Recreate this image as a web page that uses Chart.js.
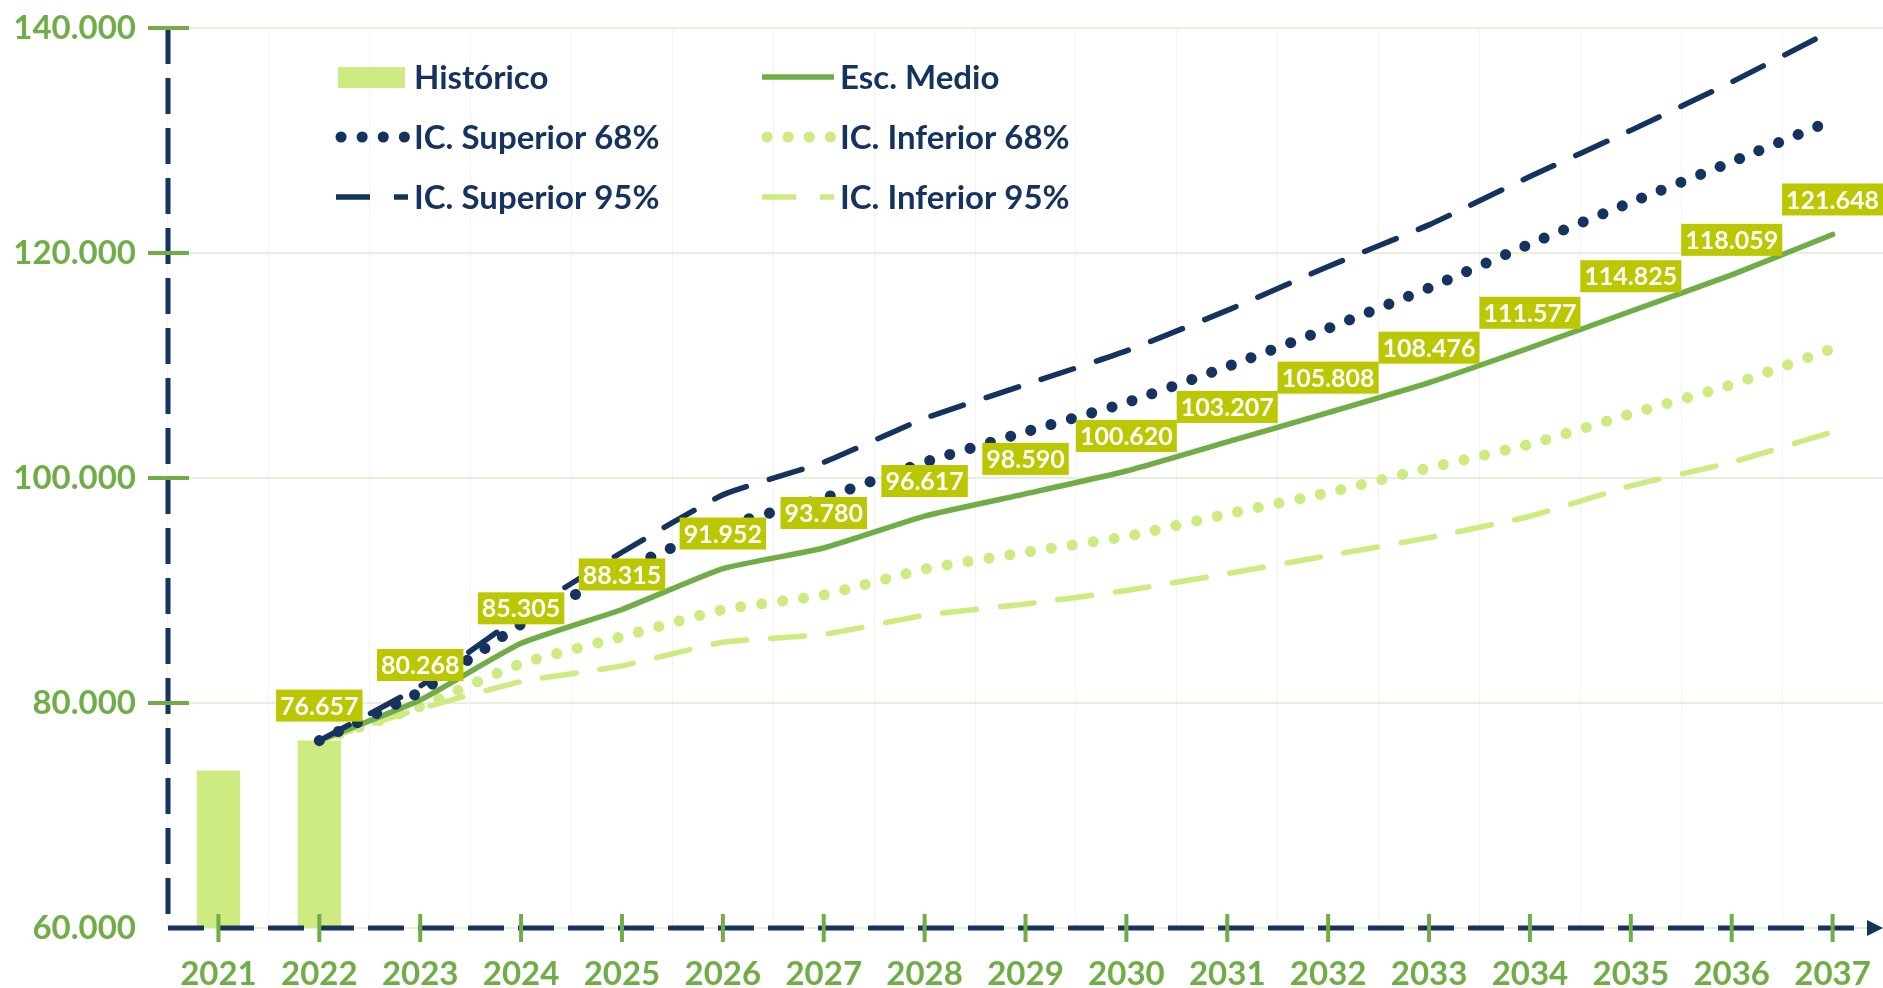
<!DOCTYPE html>
<html>
<head>
<meta charset="utf-8">
<script src="https://cdn.jsdelivr.net/npm/chart.js@4.4.1/dist/chart.umd.min.js"></script>
<style>
  html, body { margin: 0; padding: 0; background: #ffffff; }
  #wrap { width: 1883px; height: 988px; position: relative; }
</style>
</head>
<body>
<div id="wrap"><canvas id="chart"></canvas></div>
<script>
// Chart data
const years = ['2021', '2022', '2023', '2024', '2025', '2026', '2027', '2028', '2029',
  '2030', '2031', '2032', '2033', '2034', '2035', '2036', '2037'];
const historico = [74000, 76657, null, null, null, null, null, null, null,
  null, null, null, null, null, null, null, null];
const escMedio = [null, 76657, 80268, 85305, 88315, 91952, 93780, 96617, 98590,
  100620, 103207, 105808, 108476, 111577, 114825, 118059, 121648];
const icSup68 = [null, 76657, 81000, 87000, 91800, 95700, 98200, 101400, 104100,
  106700, 109900, 113300, 116900, 120800, 124500, 128100, 131800];
const icInf68 = [null, 76657, 79700, 83500, 85900, 88300, 89600, 91900, 93400,
  94800, 96800, 98700, 100900, 103000, 105700, 108300, 111500];
const icSup95 = [null, 76657, 81500, 87800, 93400, 98500, 101400, 105300, 108300,
  111300, 114900, 118800, 122500, 126800, 130900, 135200, 139800];
const icInf95 = [null, 76657, 79500, 81900, 83300, 85400, 86100, 87800, 88800,
  90000, 91500, 93100, 94700, 96600, 99300, 101400, 104100];

const NAVY = '#15335E';
const GREEN = '#70AD47';
const LIGHT = '#CDEB80';
const LABEL_BG = '#BBC700';
const FONT = 'Lato, "Open Sans", sans-serif';

// 76657 -> "76.657"
function fmt(v) {
  return String(Math.round(v)).replace(/\B(?=(\d{3})+(?!\d))/g, '.');
}

// Dashed axes with arrow, green tick marks
const axesPlugin = {
  id: 'axesDeco',
  afterDatasetsDraw(chart) {
    const ctx = chart.ctx;
    const a = chart.chartArea;
    const xs = chart.scales.x, ys = chart.scales.y;
    ctx.save();
    ctx.strokeStyle = NAVY;
    ctx.lineWidth = 5;
    ctx.setLineDash([36, 14]);
    ctx.beginPath();
    ctx.moveTo(a.left, a.top);
    ctx.lineTo(a.left, a.bottom);
    ctx.lineTo(a.right - 14, a.bottom);
    ctx.stroke();
    ctx.setLineDash([]);
    // arrow head
    ctx.fillStyle = NAVY;
    ctx.beginPath();
    ctx.moveTo(a.right, a.bottom);
    ctx.lineTo(a.right - 16, a.bottom - 8);
    ctx.lineTo(a.right - 16, a.bottom + 8);
    ctx.closePath();
    ctx.fill();
    // green ticks
    ctx.strokeStyle = GREEN;
    ctx.lineWidth = 4;
    xs.ticks.forEach((t, i) => {
      const x = xs.getPixelForTick(i);
      ctx.beginPath();
      ctx.moveTo(x, a.bottom - 14);
      ctx.lineTo(x, a.bottom + 14);
      ctx.stroke();
    });
    ys.ticks.forEach((t, i) => {
      const y = ys.getPixelForTick(i);
      if (i === 0) return;
      ctx.beginPath();
      ctx.moveTo(a.left - 20, y);
      ctx.lineTo(a.left + 21, y);
      ctx.stroke();
    });
    ctx.restore();
  }
};

// Value boxes above the Esc. Medio points
const labelPlugin = {
  id: 'valueBoxes',
  afterDatasetsDraw(chart) {
    const ctx = chart.ctx;
    const idx = chart.data.datasets.findIndex(d => d.label === 'Esc. Medio');
    const meta = chart.getDatasetMeta(idx);
    ctx.save();
    ctx.font = 'bold 25px ' + FONT;
    ctx.textAlign = 'center';
    ctx.textBaseline = 'middle';
    meta.data.forEach((pt, i) => {
      const v = escMedio[i];
      if (v == null) return;
      const txt = fmt(v);
      const w = ctx.measureText(txt).width + 8;
      const cy = pt.y - 35;
      ctx.fillStyle = LABEL_BG;
      ctx.fillRect(pt.x - w / 2, cy - 16, w, 32);
      ctx.fillStyle = '#ffffff';
      ctx.fillText(txt, pt.x, cy + 1);
    });
    ctx.restore();
  }
};

// Two-column legend inside the plot
const legendPlugin = {
  id: 'legendBox',
  afterDraw(chart) {
    const ctx = chart.ctx;
    const ds = chart.data.datasets;
    const spots = [
      { x: 336, y: 77 }, { x: 762, y: 77 },
      { x: 336, y: 137 }, { x: 762, y: 137 },
      { x: 336, y: 197 }, { x: 762, y: 197 }
    ];
    const order = ['Histórico', 'Esc. Medio', 'IC. Superior 68%', 'IC. Inferior 68%',
      'IC. Superior 95%', 'IC. Inferior 95%'];
    ctx.save();
    order.forEach((name, k) => {
      const d = ds.find(s => s.label === name);
      const p = spots[k];
      if (d.type === 'bar') {
        ctx.fillStyle = d.backgroundColor;
        ctx.fillRect(p.x + 2, p.y - 10, 67, 21);
      } else {
        const dotted = d.borderDash.length && d.borderDash[0] < 1;
        ctx.strokeStyle = d.borderColor;
        ctx.lineWidth = d.borderWidth;
        ctx.lineCap = dotted ? 'round' : 'butt';
        ctx.setLineDash(d.borderDash);
        ctx.beginPath();
        ctx.moveTo(p.x + (dotted ? 5 : 0), p.y);
        ctx.lineTo(p.x + 72, p.y);
        ctx.stroke();
        ctx.setLineDash([]);
        ctx.lineCap = 'butt';
      }
      ctx.fillStyle = NAVY;
      ctx.font = 'bold 33px ' + FONT;
      ctx.textAlign = 'left';
      ctx.textBaseline = 'middle';
      ctx.fillText(name, p.x + 78, p.y + 1);
    });
    ctx.restore();
  }
};

function lineSet(label, data, color, dash, width) {
  return {
    type: 'line',
    label: label,
    data: data,
    borderColor: color,
    backgroundColor: color,
    borderWidth: width,
    borderDash: dash,
    borderCapStyle: 'round',
    borderJoinStyle: 'round',
    pointRadius: 0,
    pointHoverRadius: 0,
    tension: 0.15,
    fill: false
  };
}

new Chart(document.getElementById('chart'), {
  data: {
    labels: years,
    datasets: [
      lineSet('IC. Superior 68%', icSup68, NAVY, [0.1, 21], 11),
      lineSet('IC. Superior 95%', icSup95, NAVY, [34, 24], 5.5),
      lineSet('Esc. Medio', escMedio, GREEN, [], 5.5),
      lineSet('IC. Inferior 68%', icInf68, LIGHT, [0.1, 21], 11),
      lineSet('IC. Inferior 95%', icInf95, LIGHT, [34, 24], 5.5),
      {
        type: 'bar',
        label: 'Histórico',
        data: historico,
        backgroundColor: LIGHT,
        barPercentage: 0.43,
        categoryPercentage: 1
      }
    ]
  },
  options: {
    responsive: true,
    maintainAspectRatio: false,
    animation: false,
    layout: { padding: { top: 28, right: 0, left: 0, bottom: 0 } },
    plugins: {
      legend: { display: false },
      tooltip: { enabled: false }
    },
    scales: {
      x: {
        offset: true,
        grid: { offset: true, color: '#F2F4F0', lineWidth: 1, drawTicks: false },
        border: { display: false },
        ticks: {
          color: GREEN,
          font: { family: FONT, size: 33, weight: 'bold' },
          padding: 27,
          maxRotation: 0
        },
        afterFit: s => {
          s.height = 60;
          s.paddingLeft = 0;
          s.paddingRight = 0;
        }
      },
      y: {
        min: 60000,
        max: 140000,
        grid: { color: '#E6F1DD', lineWidth: 2, drawTicks: false },
        border: { display: false },
        ticks: {
          stepSize: 20000,
          color: GREEN,
          font: { family: FONT, size: 33, weight: 'bold' },
          padding: 32,
          callback: v => fmt(v)
        },
        afterFit: s => {
          s.width = 168;
          s.paddingTop = 0;
          s.paddingBottom = 0;
        }
      }
    }
  },
  plugins: [axesPlugin, labelPlugin, legendPlugin]
});
</script>
</body>
</html>
